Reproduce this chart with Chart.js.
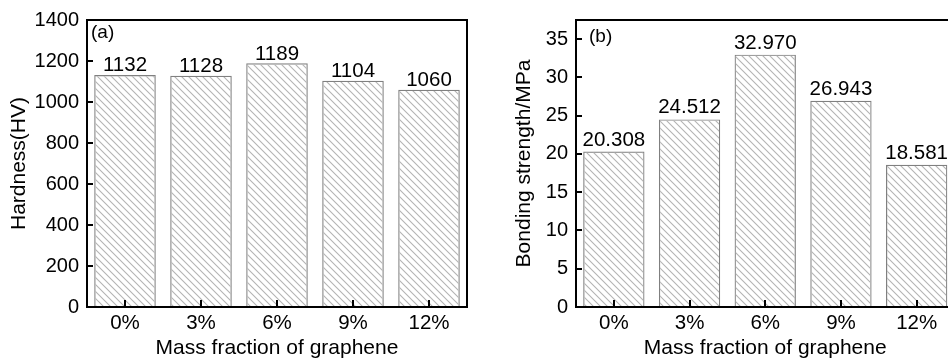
<!DOCTYPE html>
<html><head><meta charset="utf-8">
<script src="https://cdn.jsdelivr.net/npm/chart.js@4.4.0/dist/chart.umd.min.js"></script>
<style>
html,body{margin:0;padding:0;background:#fff;overflow:hidden;width:948px;height:361px;}
#wrap{position:relative;width:948px;height:361px;overflow:hidden;background:#fff;}
#ca{position:absolute;left:0;top:0;}
#cb{position:absolute;left:490px;top:0;}
</style></head><body>
<div id="wrap"><canvas id="ca" width="480" height="361"></canvas><canvas id="cb" width="470" height="361"></canvas></div>
<script>
// ---- data ----
const categories = ['0%', '3%', '6%', '9%', '12%'];
const hardness = [1132, 1128, 1189, 1104, 1060];
const bondingStrength = [20.308, 24.512, 32.970, 26.943, 18.581];
const hardnessTicks = [0, 200, 400, 600, 800, 1000, 1200, 1400];
const strengthTicks = [0, 5, 10, 15, 20, 25, 30, 35];

const FAMILY = '"Liberation Sans", Arial, Helvetica, sans-serif';

function hatchPattern(ctx) {
  const n = 7;
  const c = document.createElement('canvas');
  c.width = n; c.height = n;
  const g = c.getContext('2d');
  g.strokeStyle = '#b4b4b4';
  g.lineWidth = 1.1;
  g.beginPath();
  g.moveTo(-1, -1); g.lineTo(n + 1, n + 1);
  g.moveTo(-1, n - 1); g.lineTo(1, n + 1);
  g.moveTo(n - 1, -1); g.lineTo(n + 1, 1);
  g.stroke();
  return ctx.createPattern(c, 'repeat');
}

const framePlugin = {
  id: 'frame',
  afterDraw(chart, args, o) {
    const { ctx, chartArea: a, scales: { x, y } } = chart;
    ctx.save();
    ctx.strokeStyle = '#000';
    ctx.lineWidth = 2;
    ctx.strokeRect(a.left, a.top, a.right - a.left, a.bottom - a.top);
    ctx.beginPath();
    y.ticks.forEach((t, i) => {
      const py = Math.round(y.getPixelForTick(i));
      ctx.moveTo(a.left, py); ctx.lineTo(a.left + 6, py);
    });
    x.ticks.forEach((t, i) => {
      const px = Math.round(x.getPixelForTick(i));
      ctx.moveTo(px, a.bottom); ctx.lineTo(px, a.bottom - 7);
    });
    ctx.stroke();
    ctx.fillStyle = '#000';
    ctx.font = '20.5px ' + FAMILY;
    ctx.textAlign = 'center';
    ctx.textBaseline = 'alphabetic';
    const meta = chart.getDatasetMeta(0);
    const vals = chart.data.datasets[0].data;
    meta.data.forEach((bar, i) => {
      ctx.fillText(vals[i].toFixed(o.decimals), bar.x, bar.y - o.gap);
    });
    ctx.textAlign = 'left';
    ctx.font = '19px ' + FAMILY;
    ctx.fillText(o.tag, a.left + o.tagDx, o.tagY);
    ctx.restore();
  }
};

function makeChart(id, values, ticksArr, yMax, yTitle, yWidth, yTitlePad, padRight, tag, tagDx, tagY, decimals, gap) {
  const cv = document.getElementById(id);
  const ctx = cv.getContext('2d');
  return new Chart(ctx, {
    type: 'bar',
    data: {
      labels: categories,
      datasets: [{
        data: values,
        backgroundColor: hatchPattern(ctx),
        borderColor: '#808080',
        borderWidth: 1.2,
        categoryPercentage: 1.0,
        barPercentage: 0.81
      }]
    },
    options: {
      responsive: false,
      animation: false,
      devicePixelRatio: 1,
      layout: { padding: { top: 20, bottom: 0, left: 0, right: padRight } },
      plugins: {
        legend: { display: false },
        tooltip: { enabled: false },
        frame: { tag: tag, tagDx: tagDx, tagY: tagY, decimals: decimals, gap: gap }
      },
      scales: {
        x: {
          grid: { display: false, drawTicks: false },
          border: { display: false },
          ticks: { color: '#000', padding: 4, maxRotation: 0, font: { size: 20.5, family: FAMILY } },
          title: { display: true, text: 'Mass fraction of graphene', color: '#000',
                   font: { size: 21, family: FAMILY }, padding: { top: 0, bottom: 0 } },
          afterFit: s => { s.height = 54; }
        },
        y: {
          min: 0, max: yMax,
          afterBuildTicks: s => { s.ticks = ticksArr.map(v => ({ value: v })); },
          grid: { display: false, drawTicks: false },
          border: { display: false },
          ticks: { color: '#000', padding: 8, font: { size: 20, family: FAMILY },
                   callback: v => String(v) },
          title: { display: true, text: yTitle, color: '#000',
                   font: { size: 21, family: FAMILY }, padding: { top: yTitlePad, bottom: 0 } },
          afterFit: s => { s.width = yWidth; }
        }
      }
    },
    plugins: [framePlugin]
  });
}

makeChart('ca', hardness, hardnessTicks, 1400, 'Hardness(HV)', 87, 7, 13, '(a)', 4, 38, 0, 3.5);
makeChart('cb', bondingStrength, strengthTicks, 37.5, 'Bonding strength/MPa', 86, 21.4, 5.5, '(b)', 13, 42, 3, 6);
</script>
</body></html>
